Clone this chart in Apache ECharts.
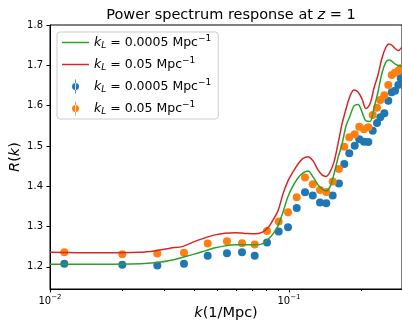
<!DOCTYPE html>
<html>
<head>
<meta charset="utf-8">
<script src="https://cdn.jsdelivr.net/npm/echarts@6/dist/echarts.min.js"></script>
<style>
  html, body { margin: 0; padding: 0; background: #fff; }
  #chart { width: 402px; height: 323px; }
</style>
</head>
<body>
<div id="chart"></div>
<script>
  // 测量点的 k 值 (1/Mpc)
  const kPoints = [0.01148, 0.02007, 0.02812, 0.03636, 0.04568, 0.05501, 0.06357, 0.07185, 0.08091, 0.09055,
    0.09904, 0.1077, 0.1167, 0.1257, 0.1348, 0.1432, 0.1523, 0.1618, 0.1703, 0.1787, 0.1883, 0.1968,
    0.2060, 0.2147, 0.2240, 0.2335, 0.2410, 0.2505, 0.2603, 0.2690, 0.2777, 0.2867, 0.2935];
  const rBlue = [1.2074, 1.2049, 1.2032, 1.2074, 1.2272, 1.2339, 1.2364, 1.2272, 1.2602, 1.2875,
    1.2984, 1.3462, 1.3852, 1.3767, 1.3594, 1.3579, 1.3767, 1.4065, 1.4553, 1.4819, 1.5007, 1.5166,
    1.5106, 1.5099, 1.5379, 1.5570, 1.5711, 1.5811, 1.6123, 1.6331, 1.6371, 1.6512, 1.6678];
  const rOrange = [1.2364, 1.2314, 1.2329, 1.2347, 1.2577, 1.2637, 1.2587, 1.2552, 1.2892, 1.3123,
    1.3356, 1.3728, 1.4214, 1.4050, 1.3909, 1.3859, 1.4115, 1.4429, 1.4982, 1.5215, 1.5290, 1.5478,
    1.5414, 1.5463, 1.5768, 1.5949, 1.6140, 1.6257, 1.6512, 1.6760, 1.6817, 1.6867, 1.6926];

  // 理论曲线
  const kModel = [0.0100, 0.01619, 0.02380, 0.02803, 0.03177, 0.03601, 0.04044, 0.04452, 0.04902, 0.05398,
    0.05942, 0.06545, 0.07205, 0.07709, 0.08170, 0.08574, 0.08995, 0.09438, 0.09904, 0.1039, 0.1091,
    0.1145, 0.1201, 0.1260, 0.1322, 0.1374, 0.1428, 0.1484, 0.1543, 0.1603, 0.1667, 0.1732, 0.1800,
    0.1871, 0.1944, 0.2020, 0.2100, 0.2182, 0.2268, 0.2357, 0.2449, 0.2546, 0.2620, 0.2698, 0.2777,
    0.2858, 0.2970];
  const rGreen = [1.2066, 1.2062, 1.2074, 1.2106, 1.2156, 1.2240, 1.2322, 1.2396, 1.2471, 1.2520,
    1.2545, 1.2545, 1.2545, 1.2570, 1.2681, 1.2818, 1.3016, 1.3363, 1.3743, 1.4008, 1.4206,
    1.4330, 1.4380, 1.4231, 1.4033, 1.3934, 1.3884, 1.3983, 1.4305, 1.4702, 1.5049, 1.5496, 1.5744,
    1.5992, 1.6029, 1.5843, 1.5620, 1.5607, 1.5942, 1.6339, 1.6810, 1.7083, 1.7132, 1.7095, 1.7033,
    1.6996, 1.6983];
  const rRed = [1.2364, 1.2347, 1.2359, 1.2404, 1.2463, 1.2508, 1.2632, 1.2719, 1.2793, 1.2835,
    1.2848, 1.2830, 1.2818, 1.2855, 1.2967, 1.3165, 1.3388, 1.3810, 1.4132, 1.4355, 1.4553,
    1.4690, 1.4734, 1.4628, 1.4405, 1.4281, 1.4243, 1.4355, 1.4603, 1.5049, 1.5545, 1.5917, 1.6240,
    1.6388, 1.6339, 1.6165, 1.5929, 1.6041, 1.6438, 1.6760, 1.7182, 1.7455, 1.7529, 1.7492, 1.7417,
    1.7368, 1.7455];

  // 刻度
  const yTicks = [1.2, 1.3, 1.4, 1.5, 1.6, 1.7, 1.8];
  const xMajor = [0.01, 0.1];
  const xMinor = [0.02, 0.03, 0.04, 0.05, 0.06, 0.07, 0.08, 0.09, 0.2];

  const font = 'DejaVu Sans';
  const zip = (xs, ys) => xs.map((x, i) => [x, ys[i]]);
  const errIcon = 'path://M0,7 a3.5,3.5 0 1,0 7,0 a3.5,3.5 0 1,0 -7,0 z M3.1,0 h0.8 v14 h-0.8 z';
  const lineIcon = 'path://M0,0 H27 V1.5 H0 Z';

  const legendNames = {
    g: '{i|k}{s|L}{n| = 0.0005 Mpc}{p|−1}',
    r: '{i|k}{s|L}{n| = 0.05 Mpc}{p|−1}',
  };

  const chart = echarts.init(document.getElementById('chart'));
  const option = {
    animation: false,
    title: {
      text: '{n|Power spectrum response at }{i|z}{n| = 1}',
      left: 226,
      top: 3,
      textAlign: 'center',
      textStyle: {
        fontWeight: 'normal',
        rich: {
          n: { fontFamily: font, fontSize: 14.5, fontWeight: 'normal', color: '#000' },
          i: { fontFamily: font, fontSize: 14.5, fontWeight: 'normal', fontStyle: 'italic', color: '#000' },
        },
      },
    },
    grid: {
      left: 50,
      right: 0,
      top: 25,
      bottom: 34,
      outerBoundsMode: 'none',
      containLabel: false,
      show: true,
      borderColor: '#000',
      borderWidth: 1,
    },
    legend: {
      orient: 'vertical',
      left: 57,
      top: 32,
      padding: [2, 7, 3, 5],
      itemGap: 6,
      itemWidth: 27,
      itemHeight: 14,
      borderColor: '#ccc',
      borderWidth: 1,
      borderRadius: 3,
      backgroundColor: 'rgba(255,255,255,0.8)',
      data: [
        { name: 'lineG', icon: lineIcon },
        { name: 'lineR', icon: lineIcon },
        { name: 'ptsB', icon: errIcon },
        { name: 'ptsO', icon: errIcon },
      ],
      formatter(name) {
        return name === 'lineG' || name === 'ptsB' ? legendNames.g : legendNames.r;
      },
      textStyle: {
        rich: {
          n: { fontFamily: font, fontSize: 12.5, color: '#000' },
          i: { fontFamily: font, fontSize: 12.5, fontStyle: 'italic', color: '#000' },
          s: { fontFamily: font, fontSize: 9, fontStyle: 'italic', color: '#000', padding: [6, 0, 0, 0] },
          p: { fontFamily: font, fontSize: 9, color: '#000', padding: [0, 0, 8, 0] },
        },
      },
    },
    xAxis: [
      {
        type: 'log',
        logBase: 10,
        min: 0.01,
        max: 0.297,
        name: '{i|k}{n|(1/Mpc)}',
        nameLocation: 'middle',
        nameGap: 17,
        nameMoveOverlap: false,
        nameTextStyle: {
          rich: {
            n: { fontFamily: font, fontSize: 14.5, color: '#000' },
            i: { fontFamily: font, fontSize: 14.5, fontStyle: 'italic', color: '#000' },
          },
        },
        axisLine: { show: true, lineStyle: { color: '#000', width: 1 } },
        axisTick: { show: true, inside: false, length: 3.5, customValues: xMajor, lineStyle: { color: '#000' } },
        axisLabel: {
          customValues: xMajor,
          margin: 5,
          formatter(v) {
            const e = Math.round(Math.log10(v));
            return '{a|10}{b|−' + Math.abs(e) + '}';
          },
          rich: {
            a: { fontFamily: font, fontSize: 10, color: '#000' },
            b: { fontFamily: font, fontSize: 7, color: '#000', padding: [0, 0, 7, 0] },
          },
        },
        splitLine: { show: false },
      },
      {
        type: 'log',
        logBase: 10,
        min: 0.01,
        max: 0.297,
        position: 'bottom',
        axisLine: { show: false },
        axisTick: { show: true, length: 2, customValues: xMinor, lineStyle: { color: '#000' } },
        axisLabel: { show: false },
        splitLine: { show: false },
      },
    ],
    yAxis: {
      type: 'value',
      min: 1.145,
      max: 1.8,
      name: '{i|R}{n|(}{i|k}{n|)}',
      nameLocation: 'middle',
      nameGap: 27,
      nameMoveOverlap: false,
      nameTextStyle: {
        rich: {
          n: { fontFamily: font, fontSize: 14.5, color: '#000' },
          i: { fontFamily: font, fontSize: 14.5, fontStyle: 'italic', color: '#000' },
        },
      },
      axisLine: { show: true, lineStyle: { color: '#000', width: 1 } },
      axisTick: { show: true, length: 3.5, customValues: yTicks, lineStyle: { color: '#000' } },
      axisLabel: {
        customValues: yTicks,
        margin: 7,
        fontFamily: font,
        fontSize: 10,
        color: '#000',
        formatter: (v) => v.toFixed(1),
      },
      splitLine: { show: false },
    },
    series: [
      {
        name: 'lineG',
        type: 'line',
        data: zip(kModel, rGreen),
        smooth: 0.35,
        symbol: 'none',
        lineStyle: { color: '#2ca02c', width: 1.5 },
        itemStyle: { color: '#2ca02c' },
      },
      {
        name: 'lineR',
        type: 'line',
        data: zip(kModel, rRed),
        smooth: 0.35,
        symbol: 'none',
        lineStyle: { color: '#d62728', width: 1.5 },
        itemStyle: { color: '#d62728' },
      },
      {
        name: 'ptsB',
        type: 'scatter',
        data: zip(kPoints, rBlue),
        symbolSize: 8,
        itemStyle: { color: '#1f77b4', opacity: 1 },
      },
      {
        name: 'ptsO',
        type: 'scatter',
        data: zip(kPoints, rOrange),
        symbolSize: 8,
        itemStyle: { color: '#ff7f0e', opacity: 1 },
      },
    ],
  };
  chart.setOption(option);
</script>
</body>
</html>
